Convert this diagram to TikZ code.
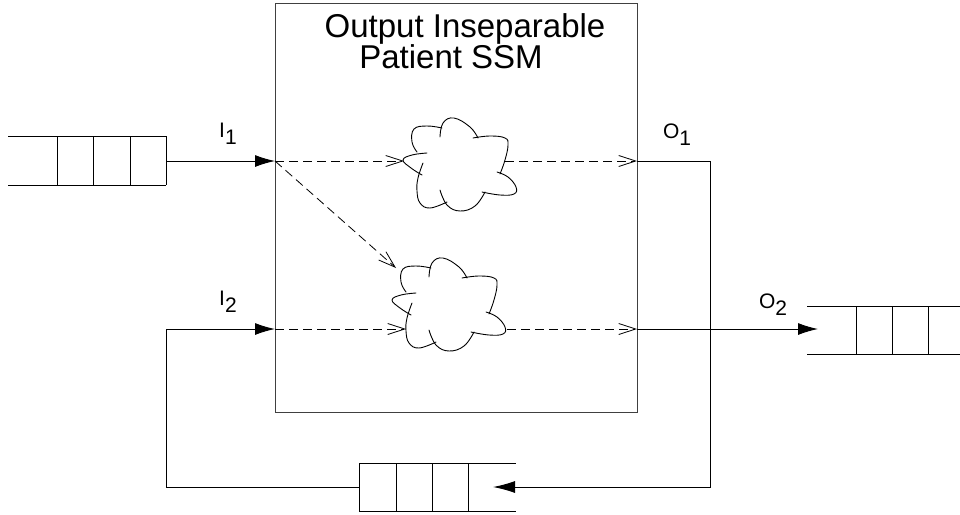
\documentclass[tikz,border=0pt]{standalone}
\usepackage{fontspec}
\setmainfont{Liberation Sans}
\usetikzlibrary{arrows.meta}
\begin{document}
\begin{tikzpicture}[x=1pt,y=-1pt,
  ln/.style={line width=1pt,draw=black},
  boxln/.style={line width=1.1pt,draw=black!75},
  solidarrow/.style={ln,-{Latex[length=20pt,width=12pt]}},
  dasharrow/.style={line width=0.8pt,dash pattern=on 9pt off 5pt,-{Straight Barb[length=17pt,width=11pt,line width=0.8pt]}},
  cloudln/.style={line width=0.9pt,draw=black,line cap=round},
  flower/.pic={
    \draw[cloudln] plot[smooth,tension=0.7] coordinates {(-33,-10) (-48,-8) (-57,-3) (-49,5) (-38,12)};
    \draw[cloudln] plot[smooth,tension=0.7] coordinates {(-37,0) (-42,15) (-43,28) (-40,40) (-30,45) (-13,39)};
    \draw[cloudln] plot[smooth,tension=0.7] coordinates {(-20,27) (-13,42) (0,48) (15,43) (25,29)};
    \draw[cloudln] plot[smooth,tension=0.7] coordinates {(22,29) (40,32) (54,31) (56,24) (48,14) (37,9)};
    \draw[cloudln] plot[smooth,tension=0.7] coordinates {(40,11) (45,-3) (48,-18) (45,-25) (30,-27) (13,-25)};
    \draw[cloudln] plot[smooth,tension=0.7] coordinates {(18,-25) (10,-36) (-6,-45) (-17,-40) (-20,-26)};
    \draw[cloudln] plot[smooth,tension=0.7] coordinates {(-18,-35) (-33,-37) (-46,-34) (-48,-21) (-43,-11)};
  },
  lbl/.style={font=\fontsize{21}{23}\selectfont,anchor=base,inner sep=0pt},
  ttl/.style={font=\fontsize{33}{36}\selectfont,anchor=base,inner sep=0pt}]
\useasboundingbox (0,0) rectangle (960,514);
% main box
\node[boxln,draw,minimum width=362pt,minimum height=409pt,anchor=north west,inner sep=0pt] (box) at (275,3) {};
\node[ttl] (t1) at (465,37) {Output Inseparable};
\node[ttl] (t2) at (451,68) {Patient SSM};
% clouds
\coordinate (c1) at (460,163);
\coordinate (c2) at (449,303);
\pic at (c1) {flower};
\pic at (c2) {flower};
% coordinates
\coordinate (in1) at (275,161);
\coordinate (in2) at (275,329);
\coordinate (out1) at (637,161);
\coordinate (out2) at (637,329);
\coordinate (c1w) at (404,161);
\coordinate (c1e) at (505,161);
\coordinate (c2w) at (406,329);
\coordinate (c2e) at (507,329);
\coordinate (c2nw) at (396,268);
% left queue
\coordinate (q1a) at (8,136);
\coordinate (q1b) at (166,136);
\coordinate (q1c) at (8,185);
\coordinate (q1d) at (166,185);
\coordinate (q1m) at (166,161);
\draw[ln] (q1a) -- (q1b) (q1c) -- (q1d);
\foreach \x in {57,93,130,166} \draw[ln] (\x,136) -- (\x,185);
\draw[solidarrow] (q1m) -- (in1);
% dashed flows
\draw[dasharrow] (in1) -- (c1w);
\draw[dasharrow] (c1e) -- (out1);
\draw[dasharrow] (in1) -- (c2nw);
\draw[dasharrow] (in2) -- (c2w);
\draw[dasharrow] (c2e) -- (out2);
% bottom queue
\coordinate (q3l) at (359,487);
\coordinate (q3tip) at (493,487);
\coordinate (q3end) at (516,487);
\draw[ln] (359,463) -- (516,463) (359,511) -- (516,511);
\foreach \x in {359,396,432,468} \draw[ln] (\x,463) -- (\x,511);
% feedback loop
\coordinate (lb) at (166,487);
\coordinate (lt) at (166,329);
\draw[ln] (q3l) -- (lb) -- (lt);
\draw[solidarrow] (lt) -- (in2);
\coordinate (rt) at (710,161);
\coordinate (rb) at (710,487);
\draw[ln] (out1) -- (rt) -- (rb) -- (q3end);
\draw[solidarrow,-{Latex[length=22pt,width=12pt]}] (q3end) -- (q3tip);
% right queue
\coordinate (q2tip) at (818,329);
\draw[solidarrow] (out2) -- (q2tip);
\draw[ln] (807,306) -- (960,306) (807,354) -- (960,354);
\foreach \x in {856,892,928} \draw[ln] (\x,306) -- (\x,354);
% labels
\node[lbl] (l1) at (228,137) {I\raisebox{-7pt}{1}};
\node[lbl] (l2) at (228,305) {I\raisebox{-7pt}{2}};
\node[lbl] (l3) at (677,138) {O\raisebox{-7pt}{1}};
\node[lbl] (l4) at (773,308) {O\raisebox{-7pt}{2}};
\end{tikzpicture}
\end{document}
